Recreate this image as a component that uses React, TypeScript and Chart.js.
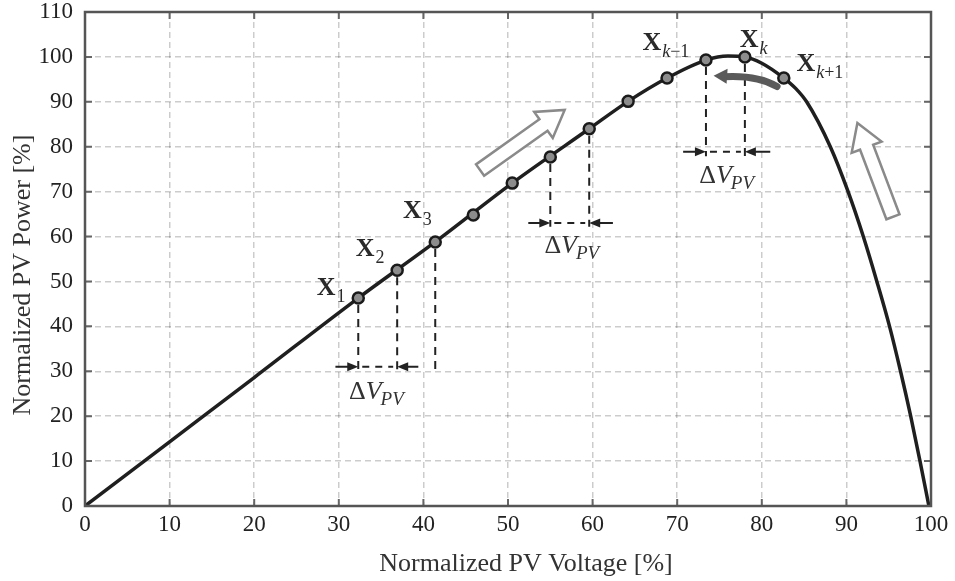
import React, { useEffect, useRef } from 'react';
import { Chart, registerables } from 'chart.js';

Chart.register(...registerables);

// Curve of normalized PV power vs. voltage
const curveV = [0, 10, 20, 32.3, 41.4, 50.5, 59.6, 64.2, 68.8, 73.4, 76, 78, 80, 82.6, 84, 85.3, 88.1, 90.2, 92.0, 93.6, 95.1, 96.4, 97.6, 98.7, 99.75];
const curveP = [0, 14.3, 28.6, 46.3, 58.8, 71.9, 84.0, 90.1, 95.3, 99.3, 100.2, 100, 98.6, 95.3, 93.0, 90, 80, 70, 60, 50, 40, 30, 20, 10, 0];

// Operating points of the perturb & observe steps
const markerV = [32.3, 36.9, 41.4, 45.9, 50.5, 55.0, 59.6, 64.2, 68.8, 73.4, 78.0, 82.6];
const markerP = [46.3, 52.5, 58.8, 64.8, 71.9, 77.7, 84.0, 90.1, 95.3, 99.3, 100, 95.3];

const xTickValues = [0, 10, 20, 30, 40, 50, 60, 70, 80, 90, 100];
const yTickValues = [0, 10, 20, 30, 40, 50, 60, 70, 80, 90, 100, 110];

const xTitle = 'Normalized PV Voltage [%]';
const yTitle = 'Normalized PV Power [%]';

const SERIF = '"Liberation Serif", "DejaVu Serif", "Times New Roman", serif';
const INK = '#222222';

function arrowHead(ctx: CanvasRenderingContext2D, x: number, y: number, dir: number, len: number, half: number) {
  ctx.beginPath();
  ctx.moveTo(x, y);
  ctx.lineTo(x - dir * len, y - half);
  ctx.lineTo(x - dir * len, y + half);
  ctx.closePath();
  ctx.fill();
}

function hollowArrow(ctx: CanvasRenderingContext2D, x0: number, y0: number, x1: number, y1: number, shaftW: number, headW: number, headL: number) {
  const dx = x1 - x0, dy = y1 - y0;
  const L = Math.hypot(dx, dy);
  const ux = dx / L, uy = dy / L;
  const nx = -uy, ny = ux;
  const bx = x1 - ux * headL, by = y1 - uy * headL;
  const pts: [number, number][] = [
    [x0 + nx * shaftW / 2, y0 + ny * shaftW / 2],
    [bx + nx * shaftW / 2, by + ny * shaftW / 2],
    [bx + nx * headW / 2, by + ny * headW / 2],
    [x1, y1],
    [bx - nx * headW / 2, by - ny * headW / 2],
    [bx - nx * shaftW / 2, by - ny * shaftW / 2],
    [x0 - nx * shaftW / 2, y0 - ny * shaftW / 2],
  ];
  ctx.beginPath();
  ctx.moveTo(pts[0][0], pts[0][1]);
  for (let i = 1; i < pts.length; i++) ctx.lineTo(pts[i][0], pts[i][1]);
  ctx.closePath();
  ctx.fillStyle = '#ffffff';
  ctx.fill();
  ctx.strokeStyle = '#8a8a8a';
  ctx.lineWidth = 2.5;
  ctx.lineJoin = 'miter';
  ctx.stroke();
}

const annotationPlugin = {
  id: 'pvAnnotations',
  afterDatasetsDraw(chart: any) {
    const ctx: CanvasRenderingContext2D = chart.ctx;
    const xs = chart.scales.x;
    const ys = chart.scales.y;
    const px = (v: number) => xs.getPixelForValue(v);
    const py = (v: number) => ys.getPixelForValue(v);
    const area = chart.chartArea;
    ctx.save();

    // inner tick marks
    ctx.strokeStyle = '#666';
    ctx.lineWidth = 2;
    ctx.setLineDash([]);
    for (const v of yTickValues) {
      const y = py(v);
      ctx.beginPath();
      ctx.moveTo(area.left, y); ctx.lineTo(area.left + 7, y);
      ctx.moveTo(area.right, y); ctx.lineTo(area.right - 7, y);
      ctx.stroke();
    }
    for (const v of xTickValues) {
      const x = px(v);
      ctx.beginPath();
      ctx.moveTo(x, area.top); ctx.lineTo(x, area.top + 7);
      ctx.moveTo(x, area.bottom); ctx.lineTo(x, area.bottom - 7);
      ctx.stroke();
    }

    // box
    ctx.strokeStyle = '#555';
    ctx.lineWidth = 2.5;
    ctx.strokeRect(area.left, area.top, area.right - area.left, area.bottom - area.top);

    // axis titles
    ctx.fillStyle = '#333';
    ctx.font = `26px ${SERIF}`;
    ctx.textAlign = 'center';
    ctx.textBaseline = 'middle';
    ctx.fillText(xTitle, 526, 564);
    ctx.save();
    ctx.translate(23, 275);
    ctx.rotate(-Math.PI / 2);
    ctx.fillText(yTitle, 0, 0);
    ctx.restore();

    // vertical dashed drops from points
    const drops: [number, number][] = [[0, 29.7], [1, 29.7], [2, 29.4], [5, 62.2], [6, 62.2], [9, 77.9], [10, 77.6]];
    ctx.strokeStyle = INK;
    ctx.lineWidth = 2;
    ctx.setLineDash([8, 6]);
    for (const [i, yEnd] of drops) {
      const x = px(markerV[i]);
      ctx.beginPath();
      ctx.moveTo(x, py(markerP[i]) + 7);
      ctx.lineTo(x, py(yEnd));
      ctx.stroke();
    }

    // dimension arrows
    const dims: [number, number, number, number, number][] = [
      [markerV[0], markerV[1], 31, 29.6, 39.4],
      [markerV[5], markerV[6], 63, 52.4, 62.4],
      [markerV[9], markerV[10], 78.9, 70.7, 81.0],
    ];
    ctx.fillStyle = INK;
    for (const [a, b, yv, ls, rs] of dims) {
      const pa = px(a), pb = px(b), yy = py(yv), pl = px(ls), pr = px(rs);
      ctx.setLineDash([]);
      ctx.lineWidth = 2;
      ctx.beginPath();
      ctx.moveTo(pl, yy); ctx.lineTo(pa - 6, yy);
      ctx.moveTo(pr, yy); ctx.lineTo(pb + 6, yy);
      ctx.stroke();
      arrowHead(ctx, pa, yy, 1, 11, 4.5);
      arrowHead(ctx, pb, yy, -1, 11, 4.5);
      ctx.setLineDash([7, 6]);
      ctx.beginPath();
      ctx.moveTo(pa + 4, yy); ctx.lineTo(pb - 4, yy);
      ctx.stroke();
    }
    ctx.setLineDash([]);

    // ΔV_PV labels
    const dvLabels: [number, number][] = [[34.5, 25.4], [57.6, 57.9], [75.9, 73.5]];
    ctx.fillStyle = '#333';
    ctx.textBaseline = 'middle';
    ctx.textAlign = 'left';
    for (const [v, p] of dvLabels) {
      const cx = px(v), cy = py(p);
      ctx.font = `26px ${SERIF}`;
      const wD = ctx.measureText('Δ').width;
      ctx.font = `italic 26px ${SERIF}`;
      const wV = ctx.measureText('V').width;
      ctx.font = `italic 19px ${SERIF}`;
      const wS = ctx.measureText('PV').width;
      let x = cx - (wD + wV + wS) / 2;
      ctx.font = `26px ${SERIF}`;
      ctx.fillText('Δ', x, cy);
      x += wD;
      ctx.font = `italic 26px ${SERIF}`;
      ctx.fillText('V', x, cy);
      x += wV - 1;
      ctx.font = `italic 19px ${SERIF}`;
      ctx.fillText('PV', x, cy + 8);
    }

    // X labels
    const xLabels: [number, number, [string, boolean][]][] = [
      [28.5, 48.5, [['1', false]]],
      [33.1, 57.2, [['2', false]]],
      [38.7, 65.7, [['3', false]]],
      [67.0, 103.1, [['k', true], ['\u22121', false]]],
      [78.5, 103.8, [['k', true]]],
      [85.2, 98.4, [['k', true], ['+1', false]]],
    ];
    ctx.fillStyle = '#2a2a2a';
    for (const [v, p, sub] of xLabels) {
      const cx = px(v), cy = py(p);
      ctx.font = `bold 26px ${SERIF}`;
      ctx.textAlign = 'center';
      ctx.fillText('X', cx, cy);
      const w = ctx.measureText('X').width;
      let x = cx + w / 2 + 1;
      ctx.textAlign = 'left';
      for (const [t, it] of sub) {
        ctx.font = `${it ? 'italic ' : ''}18px ${SERIF}`;
        ctx.fillText(t, x, cy + 9);
        x += ctx.measureText(t).width;
      }
    }

    // hollow direction arrows
    hollowArrow(ctx, px(46.7), py(74.8), px(56.7), py(88.2), 14, 32, 26);
    hollowArrow(ctx, px(95.5), py(64.4), px(91.3), py(85.3), 14, 32, 26);

    // dark curved arrow near the peak
    const ex = px(81.8), ey = py(93.4);
    const tx = px(74.3), ty = py(95.8);
    ctx.strokeStyle = '#5a5a5a';
    ctx.fillStyle = '#5a5a5a';
    ctx.lineWidth = 7;
    ctx.lineCap = 'round';
    ctx.beginPath();
    ctx.moveTo(ex, ey);
    ctx.quadraticCurveTo(px(79.5), py(96.0), tx + 10, ty + 1);
    ctx.stroke();
    ctx.beginPath();
    ctx.moveTo(tx, ty);
    ctx.lineTo(tx + 14, ty - 7);
    ctx.lineTo(tx + 13, ty + 8);
    ctx.closePath();
    ctx.fill();

    ctx.restore();
  },
};

export default function App() {
  const canvasRef = useRef<HTMLCanvasElement | null>(null);

  useEffect(() => {
    document.body.style.margin = '0';
    const canvas = canvasRef.current;
    if (!canvas) return;
    const curveData = curveV.map((v, i) => ({ x: v, y: curveP[i] }));
    const markerData = markerV.map((v, i) => ({ x: v, y: markerP[i] }));

    const chart = new Chart(canvas, {
      type: 'line',
      data: {
        datasets: [
          {
            data: markerData,
            showLine: false,
            pointRadius: 5.5,
            pointBackgroundColor: '#8c8c8c',
            pointBorderColor: '#1a1a1a',
            pointBorderWidth: 2.5,
            borderColor: '#1a1a1a',
          },
          {
            data: curveData,
            borderColor: '#1f1f1f',
            borderWidth: 3.5,
            pointRadius: 0,
            cubicInterpolationMode: 'monotone',
            fill: false,
          },
        ],
      },
      options: {
        animation: false,
        responsive: true,
        maintainAspectRatio: false,
        layout: { padding: { top: 0, right: 24, left: 0, bottom: 0 } },
        plugins: { legend: { display: false }, tooltip: { enabled: false } },
        scales: {
          x: {
            type: 'linear',
            min: 0,
            max: 100,
            afterBuildTicks: (scale: any) => { scale.ticks = xTickValues.map((v) => ({ value: v })); },
            afterFit: (scale: any) => { scale.height = 75; },
            ticks: { font: { family: SERIF, size: 23 }, color: INK, padding: 5, maxRotation: 0 },
            grid: { color: 'rgba(0,0,0,0.2)', lineWidth: 1.5, drawTicks: false },
            border: { display: false, dash: [6, 4] },
            title: { display: false, text: xTitle },
          },
          y: {
            type: 'linear',
            min: 0,
            max: 110,
            afterBuildTicks: (scale: any) => { scale.ticks = yTickValues.map((v) => ({ value: v })); },
            afterFit: (scale: any) => { scale.width = 85; scale.paddingTop = 12; scale.paddingBottom = 0; },
            ticks: { font: { family: SERIF, size: 23 }, color: INK, padding: 12 },
            grid: { color: 'rgba(0,0,0,0.2)', lineWidth: 1.5, drawTicks: false },
            border: { display: false, dash: [6, 4] },
            title: { display: false, text: yTitle },
          },
        },
      },
      plugins: [annotationPlugin],
    });
    return () => chart.destroy();
  }, []);

  return (
    <div style={{ position: 'relative', width: 955, height: 581 }}>
      <canvas ref={canvasRef} />
    </div>
  );
}
